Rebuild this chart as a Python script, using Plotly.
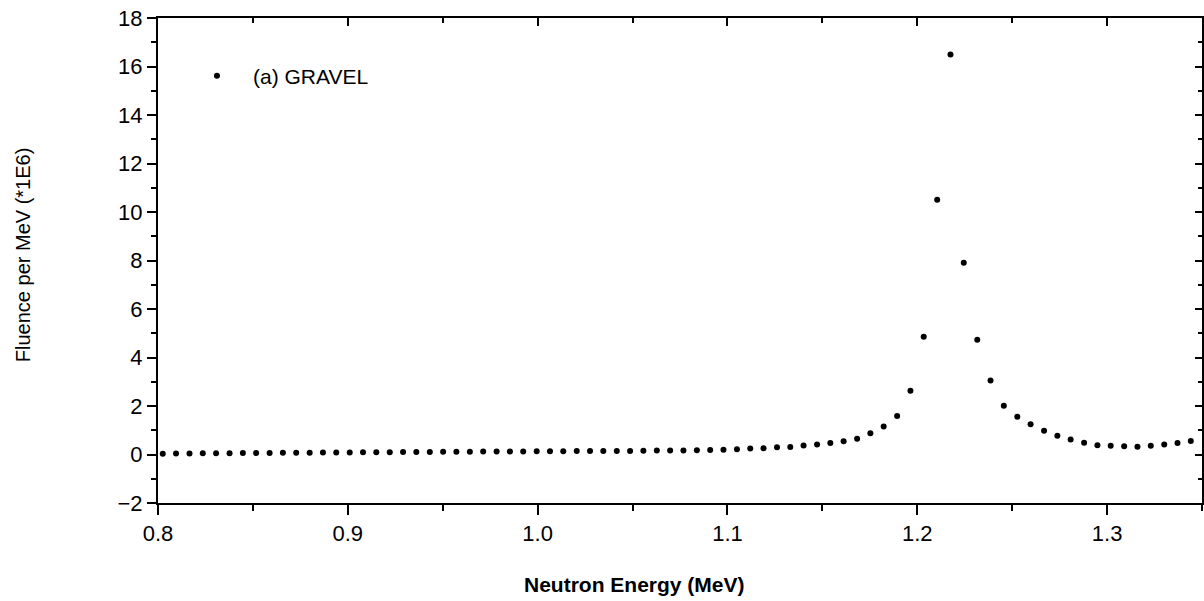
import plotly.graph_objects as go

# Neutron energy (MeV) of each measured bin
energy_mev = [
    0.8025, 0.8095, 0.8166, 0.8236, 0.8306, 0.8377, 0.8447, 0.8517, 0.8588, 0.8658,
    0.8728, 0.8799, 0.8869, 0.8939, 0.9010, 0.9080, 0.9150, 0.9221, 0.9291, 0.9361,
    0.9432, 0.9502, 0.9572, 0.9643, 0.9713, 0.9784, 0.9854, 0.9924, 0.9995, 1.0065,
    1.0135, 1.0206, 1.0276, 1.0346, 1.0417, 1.0487, 1.0557, 1.0628, 1.0698, 1.0768,
    1.0839, 1.0909, 1.0979, 1.1050, 1.1120, 1.1190, 1.1261, 1.1331, 1.1401, 1.1472,
    1.1542, 1.1612, 1.1683, 1.1753, 1.1823, 1.1894, 1.1964, 1.2034, 1.2105, 1.2175,
    1.2245, 1.2316, 1.2386, 1.2456, 1.2527, 1.2597, 1.2668, 1.2738, 1.2808, 1.2879,
    1.2949, 1.3019, 1.3090, 1.3160, 1.3230, 1.3301, 1.3371, 1.3441,
]

# Fluence per MeV (*1E6), GRAVEL unfolding
fluence_gravel = [
    0.03, 0.04, 0.04, 0.05, 0.05, 0.05, 0.06, 0.06, 0.06, 0.07,
    0.07, 0.07, 0.08, 0.08, 0.08, 0.09, 0.09, 0.09, 0.10, 0.10,
    0.10, 0.11, 0.11, 0.11, 0.12, 0.12, 0.12, 0.12, 0.13, 0.13,
    0.13, 0.14, 0.14, 0.14, 0.14, 0.14, 0.15, 0.16, 0.16, 0.17,
    0.18, 0.19, 0.20, 0.22, 0.25, 0.26, 0.30, 0.31, 0.37, 0.41,
    0.47, 0.55, 0.65, 0.88, 1.15, 1.59, 2.63, 4.86, 10.51, 16.49,
    7.91, 4.73, 3.05, 2.01, 1.56, 1.25, 0.98, 0.77, 0.62, 0.48,
    0.38, 0.36, 0.34, 0.32, 0.36, 0.41, 0.47, 0.56,
]

series_name = "(a) GRAVEL"
x_title = "Neutron Energy (MeV)"
y_title = "Fluence per MeV (*1E6)"
x_range = [0.8, 1.35]
y_range = [-2, 18]

FONT = "Liberation Sans, Arial, sans-serif"

fig = go.Figure()
fig.add_trace(go.Scatter(
    x=energy_mev, y=fluence_gravel, mode="markers", name=series_name,
    marker=dict(symbol="circle", size=6, color="black"),
    showlegend=True,
))
# invisible trace to anchor the mirrored (top/right) axes
fig.add_trace(go.Scatter(
    x=[x_range[0]], y=[y_range[0]], xaxis="x2", yaxis="y2", mode="markers",
    marker=dict(opacity=0), showlegend=False, hoverinfo="skip",
))

axis_common = dict(
    showgrid=False, zeroline=False, showline=True, linecolor="black", linewidth=2,
    tickcolor="black", tickfont=dict(family=FONT, size=22, color="black"),
)

fig.update_layout(
    width=1204, height=601,
    margin=dict(l=158, r=2, t=18, b=98),
    paper_bgcolor="white", plot_bgcolor="white",
    font=dict(family=FONT, color="black"),
    showlegend=True,
    legend=dict(
        x=0.022, y=0.880, xanchor="left", yanchor="middle",
        bgcolor="rgba(0,0,0,0)", font=dict(family=FONT, size=21, color="black"),
        itemwidth=62,
    ),
    xaxis=dict(
        **axis_common, range=x_range, dtick=0.1, tick0=0.8, tickformat=".1f",
        ticks="outside", ticklen=10, tickwidth=2,
        minor=dict(dtick=0.05, ticks="outside", ticklen=6, tickcolor="black", tickwidth=1.5),
    ),
    yaxis=dict(
        **axis_common, range=y_range, dtick=2, tick0=0,
        ticks="outside", ticklen=9, tickwidth=2,
        minor=dict(dtick=1, ticks="outside", ticklen=5, tickcolor="black", tickwidth=1.5),
    ),
    xaxis2=dict(
        overlaying="x", side="top", anchor="y", range=x_range, dtick=0.1, tick0=0.8,
        showgrid=False, zeroline=False, showline=True, linecolor="black", linewidth=2,
        ticks="inside", ticklen=8, tickwidth=2, tickcolor="black", showticklabels=False,
        minor=dict(dtick=0.05, ticks="inside", ticklen=5, tickcolor="black", tickwidth=1.5),
    ),
    yaxis2=dict(
        overlaying="y", side="right", anchor="x", range=y_range, dtick=2, tick0=0,
        showgrid=False, zeroline=False, showline=True, linecolor="black", linewidth=2,
        ticks="inside", ticklen=7, tickwidth=2, tickcolor="black", showticklabels=False,
        minor=dict(dtick=1, ticks="inside", ticklen=4, tickcolor="black", tickwidth=1.5),
    ),
    annotations=[
        dict(text="<b>" + x_title + "</b>", xref="paper", yref="paper", x=0.456, y=-0.168,
             xanchor="center", yanchor="middle", showarrow=False,
             font=dict(family=FONT, size=21, color="black")),
        dict(text=y_title, xref="paper", yref="paper", x=-0.1293, y=0.511,
             xanchor="center", yanchor="middle", textangle=-90, showarrow=False,
             font=dict(family=FONT, size=20, color="black")),
    ],
)

fig.write_html("out.html")
